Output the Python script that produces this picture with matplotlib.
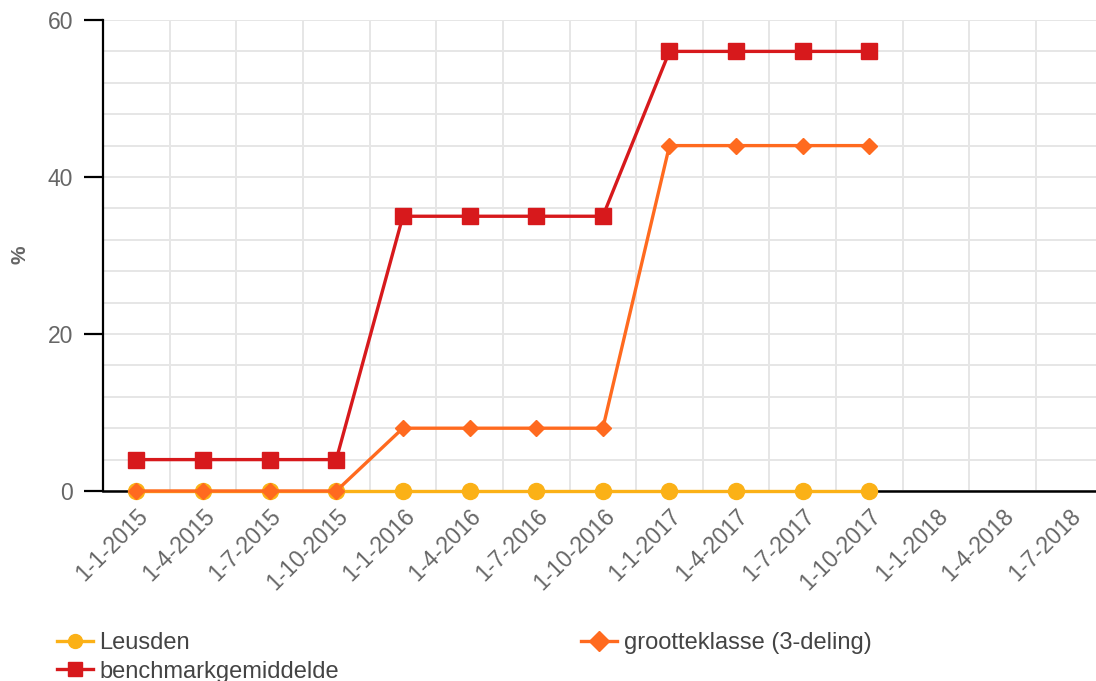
import matplotlib
matplotlib.use("Agg")
import matplotlib.pyplot as plt
from matplotlib.ticker import MultipleLocator, FixedLocator

plt.rcParams['font.family'] = ['Liberation Sans', 'DejaVu Sans']

categories = ["1-1-2015", "1-4-2015", "1-7-2015", "1-10-2015",
              "1-1-2016", "1-4-2016", "1-7-2016", "1-10-2016",
              "1-1-2017", "1-4-2017", "1-7-2017", "1-10-2017",
              "1-1-2018", "1-4-2018", "1-7-2018"]
leusden = [0, 0, 0, 0, 0, 0, 0, 0, 0, 0, 0, 0]
grootteklasse = [0, 0, 0, 0, 8, 8, 8, 8, 44, 44, 44, 44]
benchmark = [4, 4, 4, 4, 35, 35, 35, 35, 56, 56, 56, 56]

c_leus = "#fbb117"
c_groot = "#ff6a1f"
c_bench = "#d7191c"

W, H = 1096, 681
fig = plt.figure(figsize=(W / 100, H / 100), dpi=100)
ax = fig.add_axes([103 / W, 1 - 491 / H, (1096 - 103) / W, (491 - 20) / H])

xs = list(range(len(leusden)))
l1, = ax.plot(xs, leusden, color=c_leus, lw=2.4, marker='o', ms=11.5,
              zorder=3, clip_on=False, label="Leusden")
l3, = ax.plot(xs, benchmark, color=c_bench, lw=2.4, marker='s', ms=11.5,
              zorder=4, clip_on=False, label="benchmarkgemiddelde")
l2, = ax.plot(xs, grootteklasse, color=c_groot, lw=2.4, marker='D', ms=8.5,
              zorder=5, clip_on=False, label="grootteklasse (3-deling)")

ax.set_xlim(-0.5, 14.4)
ax.set_ylim(0, 60)

ax.set_xticks(range(len(categories)))
ax.set_xticklabels(categories, rotation=45, ha='right', va='top',
                   rotation_mode='anchor', color='#666666', fontsize=16.5)
ax.xaxis.set_minor_locator(FixedLocator([i + 0.5 for i in range(-1, len(categories))]))
ax.tick_params(axis='x', which='both', length=0, pad=10)

ax.yaxis.set_major_locator(MultipleLocator(20))
ax.yaxis.set_minor_locator(MultipleLocator(4))
ax.tick_params(axis='y', which='major', length=13.5, width=1.6, color='black',
               labelcolor='#666666', labelsize=16.5, pad=8)
ax.tick_params(axis='y', which='minor', length=0)

ax.grid(axis='x', which='minor', color='#e6e6e6', lw=1.4)
ax.grid(axis='x', which='major', visible=False)
ax.grid(axis='y', which='both', color='#e6e6e6', lw=1.4)
ax.set_axisbelow(True)

for s in ['top', 'right']:
    ax.spines[s].set_visible(False)
ax.spines['left'].set_color('black')
ax.spines['left'].set_linewidth(1.6)
ax.spines['bottom'].set_color('black')
ax.spines['bottom'].set_linewidth(1.8)
ax.spines['left'].set_zorder(2.5)
ax.spines['bottom'].set_zorder(2.5)

fig.text(20 / W, 1 - 255 / H, "%", rotation=90, ha='center', va='center',
         color='#666666', fontsize=15, fontweight='bold')

leg = fig.legend(handles=[l1, l3, l2], ncol=2, loc='upper left',
                 bbox_to_anchor=(50 / W, 1 - 625 / H), frameon=False,
                 fontsize=17, handlelength=1.5, handletextpad=0.3,
                 columnspacing=10.25, labelspacing=0.28, borderaxespad=0,
                 borderpad=0.3, labelcolor='#444444')
for h in leg.legend_handles:
    h.set_markersize(10)

fig.savefig("out.png", dpi=100)
